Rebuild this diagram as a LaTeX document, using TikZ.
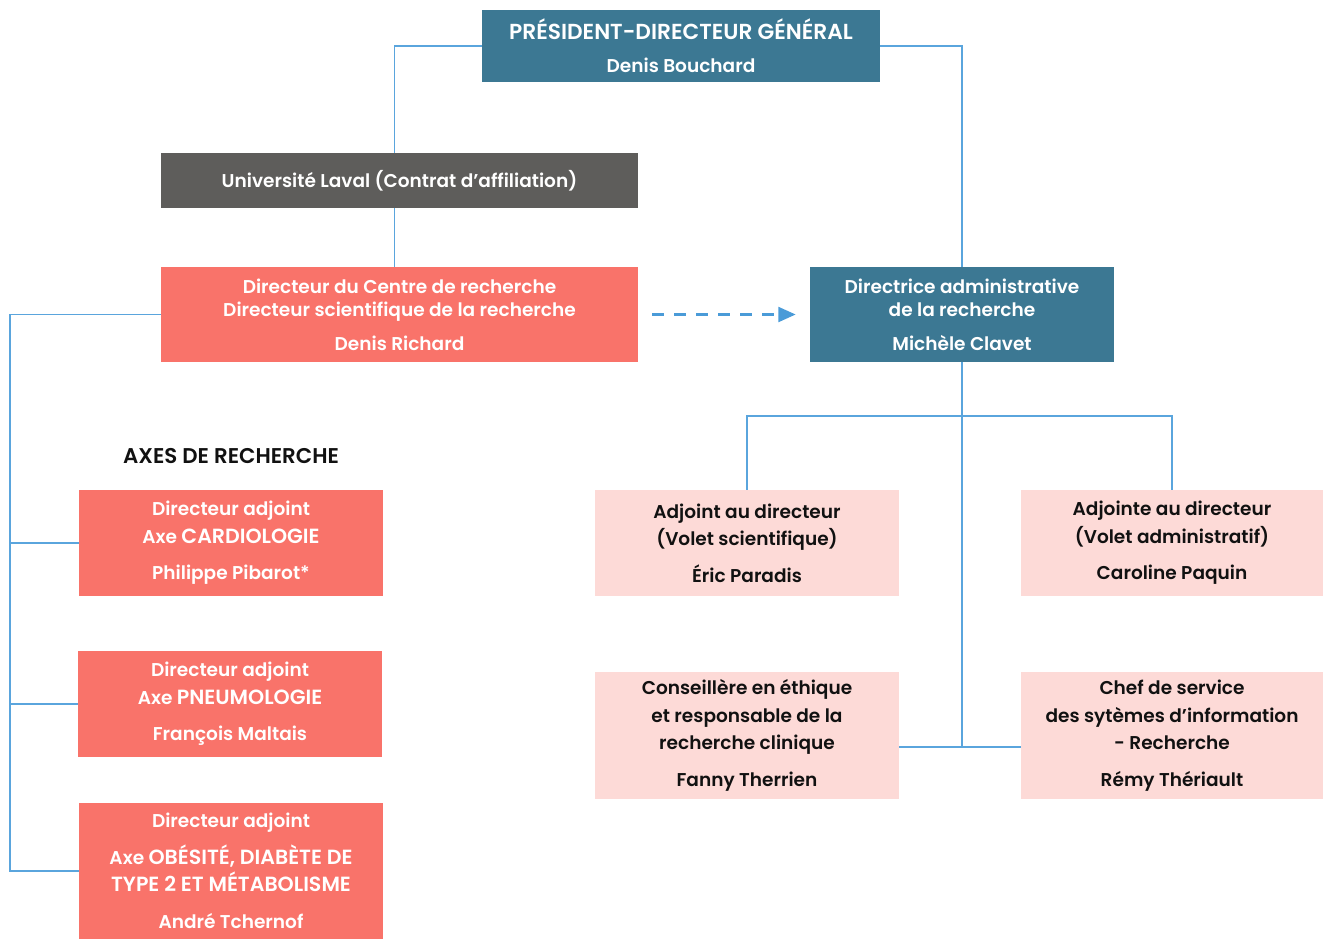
\documentclass[tikz,border=0pt]{standalone}
\usepackage{fontspec}
\setmainfont{Poppins}[BoldFont={Poppins SemiBold}]
\usetikzlibrary{arrows.meta}
\definecolor{teal}{HTML}{3C7893}
\definecolor{salmon}{HTML}{F9736A}
\definecolor{pinkbg}{HTML}{FDDAD7}
\definecolor{grayb}{HTML}{5E5D5B}
\definecolor{conn}{HTML}{5AA5DD}
\definecolor{dash}{HTML}{4A9BD8}
\definecolor{ink}{HTML}{111111}
\newcommand\cp[1]{{\fontsize{15.4}{20.5}\selectfont #1}}
\begin{document}
\begin{tikzpicture}[x=0.75pt,y=-0.75pt,
  box/.style={inner sep=0pt, align=center, font=\fontsize{13.9}{20.5}\selectfont\bfseries},
  tealbox/.style={box, fill=teal, text=white},
  salbox/.style={box, fill=salmon, text=white},
  pinkbox/.style={box, fill=pinkbg, text=ink},
  graybox/.style={box, fill=grayb, text=white},
  wh/.style 2 args={minimum width=#1*0.75pt, minimum height=#2*0.75pt},
  connline/.style={draw=conn, line width=1pt},
  dasharrow/.style={draw=dash, line width=2.2pt, dash pattern=on 9pt off 7.5pt, -{Triangle[length=13pt,width=11pt]}}
]
\useasboundingbox (0,0) rectangle (1323,939);

\node[tealbox, wh={398}{72}] (pdg) at (681,46) {{\fontsize{16.3}{20.5}\selectfont PRÉSIDENT-DIRECTEUR GÉNÉRAL}\\[4pt]Denis Bouchard};
\node[graybox, wh={477}{55}] (ul) at (399.5,180.5) {Université Laval (Contrat d’affiliation)};
\node[salbox, wh={477}{95}] (dcr) at (399.5,314.5) {Directeur du Centre de recherche\\[-3pt]Directeur scientifique de la recherche\\[5pt]Denis Richard};
\node[tealbox, wh={304}{95}] (dir) at (962,314.5) {Directrice administrative\\[-3pt]de la recherche\\[5pt]Michèle Clavet};

\node[font=\fontsize{16}{18}\selectfont\bfseries, text=ink] (axes) at (231,456) {AXES DE RECHERCHE};

\node[salbox, wh={304}{106}] (card) at (231,543) {Directeur adjoint\\Axe \cp{CARDIOLOGIE}\\[7pt]Philippe Pibarot*};
\node[salbox, wh={304}{106}] (pneu) at (230,704) {Directeur adjoint\\Axe \cp{PNEUMOLOGIE}\\[7pt]François Maltais};
\node[salbox, wh={304}{136}] (obes) at (231,871) {Directeur adjoint\\[7pt]Axe \cp{OBÉSITÉ, DIABÈTE DE}\\\cp{TYPE 2 ET MÉTABOLISME}\\[7pt]André Tchernof};

\node[pinkbox, wh={304}{106}] (adj1) at (747,543) {Adjoint au directeur\\(Volet scientifique)\\[7pt]Éric Paradis};
\node[pinkbox, wh={302}{106}] (adj2) at (1172,543) {Adjointe au directeur\\(Volet administratif)\\[7pt]Caroline Paquin};
\node[pinkbox, wh={304}{127}] (cons) at (747,735.5) {Conseillère en éthique\\et responsable de la\\recherche clinique\\[7pt]Fanny Therrien};
\node[pinkbox, wh={302}{127}] (chef) at (1172,735.5) {Chef de service\\des sytèmes d’information\\- Recherche\\[7pt]Rémy Thériault};

\coordinate (lt) at (10,315);
\coordinate (j1) at (962,416);
\coordinate (j2) at (962,747);

\draw[connline] (pdg.west) -| ([xshift=-4pt]ul.north);
\draw[connline] ([xshift=-4pt]ul.south) -- ([xshift=-4pt]dcr.north);
\draw[connline] (pdg.east) -| (dir.north);
\draw[connline] (dcr.west) -- (dcr.west -| lt) |- (obes.west);
\draw[connline] (card.west) -- (card.west -| lt);
\draw[connline] (pneu.west) -- (pneu.west -| lt);
\draw[connline] (dir.south) -- (j2);
\draw[connline] (adj1.north) |- (j1) -| (adj2.north);
\draw[connline] (cons.east |- j2) -- (chef.west |- j2);

\draw[dasharrow, shorten <=14*0.75pt, shorten >=14*0.75pt] (dcr.east) -- (dir.west);
\end{tikzpicture}
\end{document}
